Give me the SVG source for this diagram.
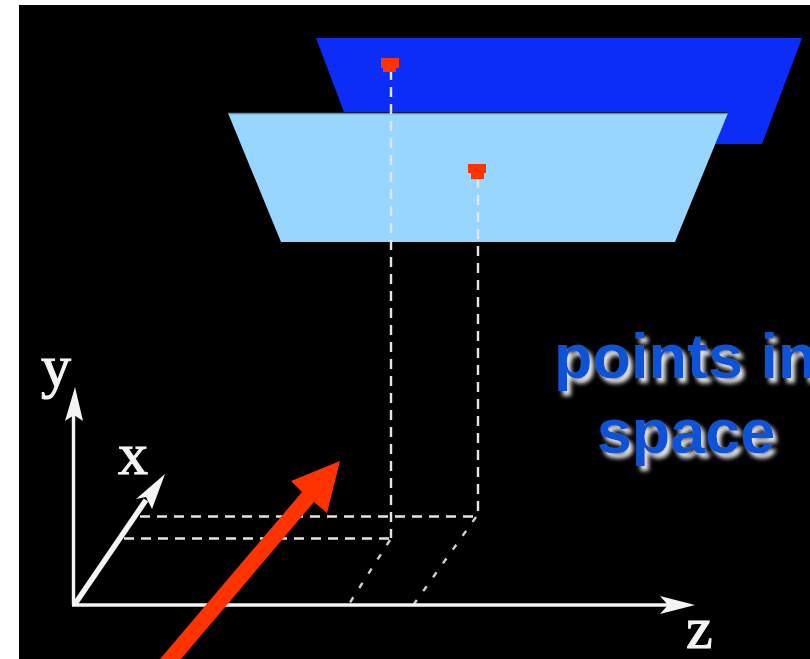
<svg xmlns="http://www.w3.org/2000/svg" width="810" height="659" viewBox="0 0 810 659">
<defs>
<filter id="shadow" x="-10%" y="-20%" width="120%" height="140%">
<feGaussianBlur in="SourceAlpha" stdDeviation="2.2" result="b"/>
<feOffset in="b" dx="4" dy="5" result="o"/>
<feFlood flood-color="#e4e4e4"/>
<feComposite in2="o" operator="in" result="s"/>
<feMerge><feMergeNode in="s"/><feMergeNode in="SourceGraphic"/></feMerge>
</filter>
</defs>
<style>
.axis{stroke:#f4f4f4;stroke-width:3.400;fill:none}
.head{fill:#f4f4f4}
.dash{stroke:#e4e4e4;stroke-width:2.400;fill:none;stroke-dasharray:10 7}
.diag{stroke:#d0d0d0;stroke-width:2.400;fill:none;stroke-dasharray:6 11}
.lab{font-family:"Liberation Serif","Times New Roman",serif;font-size:60px;fill:#f4f4f4;stroke:#f4f4f4;stroke-width:1.100}
.cap{font-family:"Liberation Sans",Arial,sans-serif;font-weight:bold;font-size:63px;fill:#0a52d8}
.pt{fill:#ff3300}
</style>
<rect width="810" height="659" fill="#ffffff"/>
<rect x="19" y="5" width="791" height="654" fill="#000000"/>
<g id="plane-back"><polygon points="316,38 802,38 762,144 715,144 728,112 344,112" fill="#0c2cf8"/></g>
<g id="plane-front"><polygon points="228,113 728,113 675,242 281,242" fill="#99d6ff"/><line x1="228" y1="113.500" x2="728" y2="113.500" stroke="#5a8aa8" stroke-width="1.500"/></g>
<g id="connectors">
<line class="dash" x1="391" y1="70" x2="391" y2="538"/>
<line class="dash" x1="478" y1="178" x2="478" y2="516"/>
<line class="dash" x1="140" y1="516.500" x2="478" y2="516.500"/>
<line class="dash" x1="124" y1="538.500" x2="391" y2="538.500"/>
<line class="diag" x1="390" y1="540" x2="349" y2="604"/>
<line class="diag" x1="476" y1="517" x2="414" y2="604"/>
</g>
<g id="axis-y"><line class="axis" x1="73.500" y1="605" x2="73.500" y2="410"/><polygon class="head" points="75,387 83,421 74,415 65,421"/><text class="lab" x="41" y="386">y</text></g>
<g id="axis-x"><line class="axis" x1="75" y1="604" x2="146" y2="500" style="stroke-width:5.500"/><polygon class="head" points="165,474 152,509 146,497 136,499"/><text class="lab" x="118" y="474">x</text></g>
<g id="axis-z"><line class="axis" x1="72" y1="605" x2="675" y2="605"/><polygon class="head" points="695,605 660,614 668,605 660,596"/><text class="lab" x="686" y="648">z</text></g>
<g id="point-back"><polygon class="pt" points="381,58 399,58 399,68 396,68 396,72 383,72 383,68 381,68"/></g>
<g id="point-front"><polygon class="pt" points="468,164 486,164 486,173 484,173 484,179 471,179 471,173 468,173"/></g>
<g id="red-arrow"><polygon points="340,461 327,513 314,502 181,659 160,659 302,492 291,481" fill="#ff3300"/></g>
<g id="caption" filter="url(#shadow)">
<text class="cap" x="554" y="378">points in</text>
<text class="cap" x="686" y="453" text-anchor="middle">space</text>
</g>
</svg>
